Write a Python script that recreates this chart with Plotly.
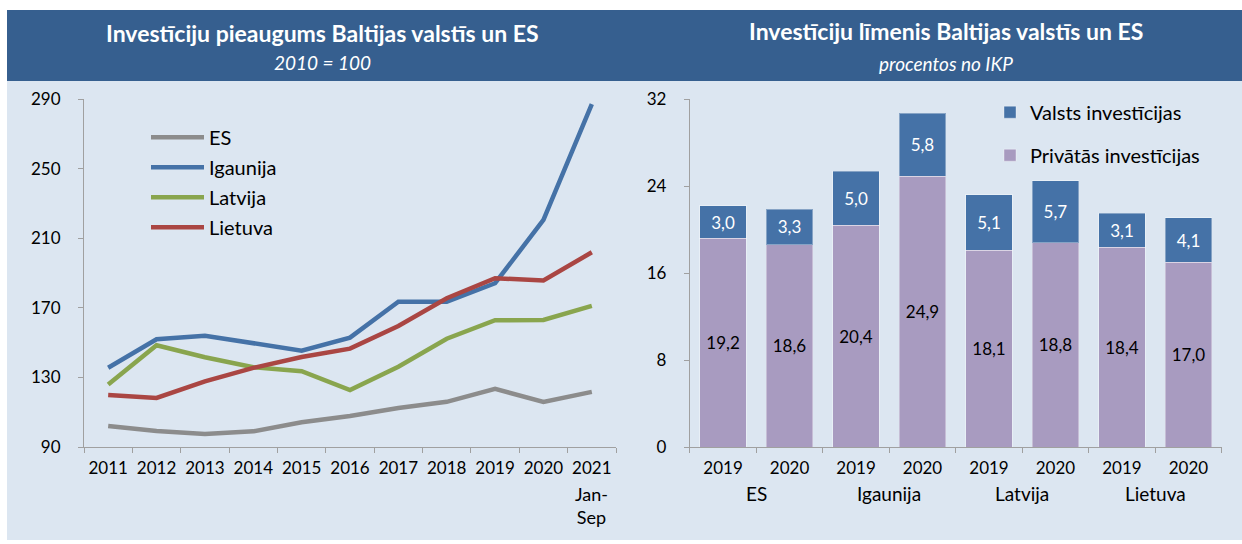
import plotly.graph_objects as go

# ---------------- data ----------------
years_line = ["2011", "2012", "2013", "2014", "2015", "2016", "2017", "2018", "2019", "2020", "2021"]
year_tick_text = ["2011", "2012", "2013", "2014", "2015", "2016", "2017", "2018", "2019", "2020", "2021"]
last_note = "Jan-<br>Sep"

es_vals = [102.1, 99.2, 97.5, 99.0, 104.2, 107.8, 112.4, 116.0, 123.4, 115.9, 121.7]
igaunija_vals = [135.6, 152.0, 154.0, 150.0, 145.4, 152.9, 173.6, 173.6, 184.2, 220.6, 287.2]
latvija_vals = [126.0, 148.5, 141.6, 135.9, 133.6, 122.8, 136.2, 152.3, 162.9, 163.1, 171.2]
lietuva_vals = [119.9, 118.2, 127.8, 135.5, 141.8, 146.6, 159.6, 175.6, 187.1, 185.8, 202.0]

bar_groups = ["ES", "Igaunija", "Latvija", "Lietuva"]
bar_years = ["2019", "2020"]
private_vals = [19.2, 18.6, 20.4, 24.9, 18.1, 18.8, 18.4, 17.0]
public_vals = [3.0, 3.3, 5.0, 5.8, 5.1, 5.7, 3.1, 4.1]

left_title = "<b>Investīciju pieaugums Baltijas valstīs un ES</b>"
left_sub = "<i>2010 = 100</i>"
right_title = "<b>Investīciju līmenis Baltijas valstīs un ES</b>"
right_sub = "<i>procentos no IKP</i>"

# ---------------- styling ----------------
W, H = 1242, 544
FONT = "Lato"
HEADER = "#365F8F"
BODY = "#DCE6F1"
AXIS = "#A0A0A0"


def px_x(p):
    return p / W


def px_y(p):
    return 1 - p / H


bar_cats = [f"{g} {y}" for g in bar_groups for y in bar_years]
bar_tick_text = [y for g in bar_groups for y in bar_years]

fig = go.Figure()

line_series = [
    ("ES", es_vals, "#8C8C8C"),
    ("Igaunija", igaunija_vals, "#4572A7"),
    ("Latvija", latvija_vals, "#89A54E"),
    ("Lietuva", lietuva_vals, "#AA4643"),
]
for name, vals, col in line_series:
    fig.add_trace(go.Scatter(
        x=years_line, y=vals, name=name, mode="lines",
        line=dict(color=col, width=4.5),
        xaxis="x", yaxis="y", legend="legend", legendgroup=name,
    ))

fig.add_trace(go.Bar(
    x=bar_cats, y=private_vals, name="Privātās investīcijas",
    marker=dict(color="#A89BC0", line=dict(color="rgba(255,255,255,0.35)", width=1)),
    texttemplate="%{y:.1f}", textposition="inside", insidetextanchor="middle",
    textangle=0, textfont=dict(color="#000000", size=17, family=FONT),
    xaxis="x2", yaxis="y2", legend="legend2", legendgroup="priv", legendrank=2000,
))
fig.add_trace(go.Bar(
    x=bar_cats, y=public_vals, name="Valsts investīcijas",
    marker=dict(color="#4572A7", line=dict(color="rgba(255,255,255,0.35)", width=1)),
    texttemplate="%{y:.1f}", textposition="inside", insidetextanchor="middle",
    textangle=0, textfont=dict(color="#FFFFFF", size=17, family=FONT),
    xaxis="x2", yaxis="y2", legend="legend2", legendgroup="pub", legendrank=500,
))

shapes = [
    dict(type="rect", xref="paper", yref="paper", x0=px_x(7), x1=1.0,
         y0=px_y(540), y1=px_y(81), fillcolor=BODY, line=dict(width=0), layer="below"),
    dict(type="rect", xref="paper", yref="paper", x0=px_x(7), x1=1.0,
         y0=px_y(81), y1=px_y(10), fillcolor=HEADER, line=dict(width=0), layer="below"),
]


def paper_text(text, x, y, size, color="white"):
    return dict(text=text, x=px_x(x), y=px_y(y), xref="paper", yref="paper",
                xanchor="center", yanchor="middle", showarrow=False,
                font=dict(color=color, size=size, family=FONT))


annotations = [
    paper_text(left_title, 322, 33, 23),
    paper_text(left_sub, 322, 62, 19),
    paper_text(right_title, 946, 31, 23),
    paper_text(right_sub, 946, 63, 19),
    dict(text=last_note, x=len(years_line) - 1, y=px_y(505), xref="x", yref="paper",
         xanchor="center", yanchor="middle", showarrow=False, align="center",
         font=dict(color="black", size=18, family=FONT)),
]
for i, g in enumerate(bar_groups):
    annotations.append(dict(
        text=g, x=2 * i + 0.5, y=px_y(493), xref="x2", yref="paper",
        xanchor="center", yanchor="middle",
        showarrow=False, font=dict(color="black", size=19, family=FONT)))

axis_common = dict(showline=True, linecolor=AXIS, linewidth=1, ticks="outside",
                   ticklen=5, tickcolor=AXIS, showgrid=False, zeroline=False,
                   automargin=False,
                   tickfont=dict(size=17, color="black", family=FONT))

fig.update_layout(
    width=W, height=H,
    margin=dict(l=0, r=0, t=0, b=0, pad=0, autoexpand=False),
    paper_bgcolor="white", plot_bgcolor="rgba(0,0,0,0)",
    font=dict(family=FONT, color="black"),
    separators=", ",
    barmode="stack", bargap=0.30,
    shapes=shapes, annotations=annotations,
    xaxis=dict(domain=[px_x(84), px_x(616)], type="category",
               tickvals=years_line, ticktext=year_tick_text, tickangle=0,
               tickson="boundaries", range=[-0.5, 10.5], anchor="y",
               ticklabelstandoff=6, **axis_common),
    yaxis=dict(domain=[px_y(447), px_y(99.3)], range=[90, 290], dtick=40,
               tick0=90, anchor="x", ticklabelstandoff=14, **axis_common),
    xaxis2=dict(domain=[px_x(689.8), px_x(1221.7)], type="category",
                tickvals=bar_cats, ticktext=bar_tick_text, tickangle=0,
                tickson="boundaries", range=[-0.5, 7.5], anchor="y2",
                ticklabelstandoff=6, **axis_common),
    yaxis2=dict(domain=[px_y(447), px_y(99.3)], range=[0, 32], dtick=8,
                anchor="x2", ticklabelstandoff=14, **axis_common),
    legend=dict(x=px_x(146), y=px_y(117.7), xanchor="left", yanchor="top",
                bgcolor="rgba(0,0,0,0)", tracegroupgap=1, itemwidth=53,
                font=dict(size=20, family=FONT, color="black"), traceorder="grouped"),
    legend2=dict(x=px_x(990), y=px_y(92.7), xanchor="left", yanchor="top",
                 bgcolor="rgba(0,0,0,0)", tracegroupgap=14,
                 font=dict(size=20, family=FONT, color="black"),
                 traceorder="grouped"),
)

fig.write_html(
    "out.html",
    config={"displayModeBar": False},
    post_script="document.body.style.margin='0';document.body.style.overflow='hidden';",
)
